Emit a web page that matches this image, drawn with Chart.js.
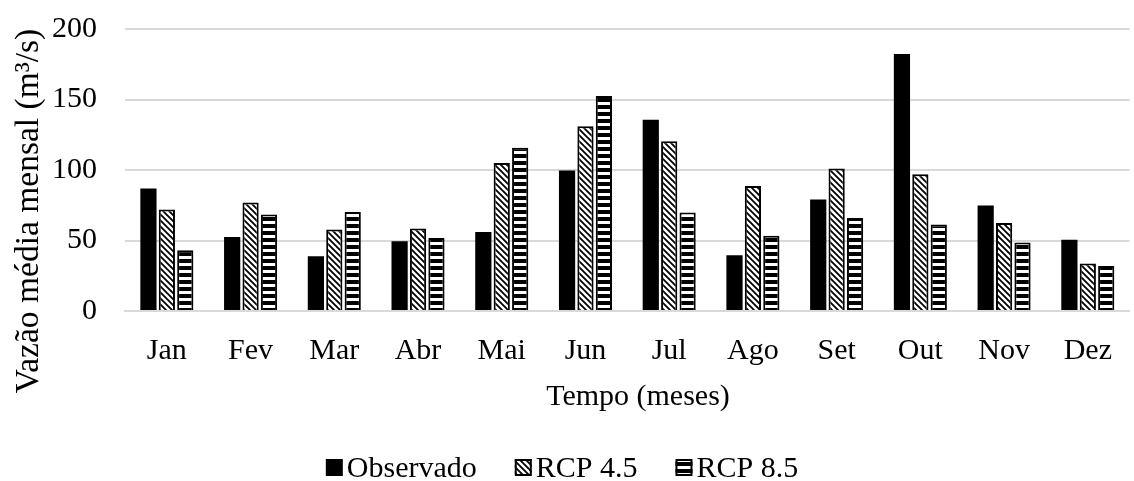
<!DOCTYPE html>
<html>
<head>
<meta charset="utf-8">
<script src="https://cdn.jsdelivr.net/npm/chart.js@4.4.0/dist/chart.umd.min.js"></script>
<style>
html,body{margin:0;padding:0;background:#fff}
#wrap{width:1134px;height:481px;position:relative}
</style>
</head>
<body>
<div id="wrap"><canvas id="graph1"></canvas></div>
<script>
const months    = ["Jan","Fev","Mar","Abr","Mai","Jun","Jul","Ago","Set","Out","Nov","Dez"];
const observado = [86.8, 52.5, 38.9, 49.5, 56, 99.7, 135.6, 39.6, 79, 182.3, 74.8, 50.5];
const rcp45     = [71.9, 77, 57.8, 58.5, 105, 131, 120.4, 88.6, 101, 97, 62.5, 33.7];
const rcp85     = [43.1, 68.4, 70.2, 51.8, 115.8, 152.5, 69.8, 53.3, 66, 61.3, 48.6, 32];
const yTicks    = [0, 50, 100, 150, 200];

const yTitle = "Vazão média mensal (m³/s)";
const xTitle = "Tempo (meses)";

// hachuras
function diagPattern(){
    const c = document.createElement("canvas");
    c.width = 6; c.height = 6;
    const g = c.getContext("2d");
    g.fillStyle = "#fff"; g.fillRect(0,0,6,6);
    g.strokeStyle = "#000"; g.lineWidth = 1.8;
    g.beginPath();
    g.moveTo(-1,-1); g.lineTo(7,7);
    g.moveTo(-4,2); g.lineTo(4,10);
    g.moveTo(2,-4); g.lineTo(10,4);
    g.stroke();
    return g.createPattern(c, "repeat");
}
function horizPattern(){
    const c = document.createElement("canvas");
    c.width = 4; c.height = 7;
    const g = c.getContext("2d");
    g.fillStyle = "#fff"; g.fillRect(0,0,4,7);
    g.fillStyle = "#000"; g.fillRect(0,0,4,4);
    return g.createPattern(c, "repeat");
}

const font = "'Liberation Serif', 'Times New Roman', serif";

// titulos e legenda desenhados a mao
const extras = {
    id: "extras",
    afterDraw(chart){
        const c = chart.ctx;
        c.save();
        c.fillStyle = "#000";

        // titulo do eixo y
        c.font = "33.5px " + font;
        c.save();
        c.translate(38, 211);
        c.rotate(-Math.PI/2);
        c.textAlign = "center";
        c.textBaseline = "alphabetic";
        c.fillText(yTitle, 0, 0);
        c.restore();

        // titulo do eixo x
        c.font = "30px " + font;
        c.textAlign = "center";
        c.textBaseline = "alphabetic";
        c.fillText(xTitle, 638, 405);

        // legenda
        const box = 17, gapTxt = 4, gapItem = 38;
        const items = chart.data.datasets.map(ds => ({ ds: ds, w: c.measureText(ds.label).width }));
        let total = 0;
        items.forEach((it, i) => { total += box + gapTxt + it.w + (i ? gapItem : 0); });
        let x = 562 - total/2;
        c.textAlign = "left";
        items.forEach(it => {
            c.fillStyle = it.ds.backgroundColor;
            c.fillRect(x, 459, box, box);
            if (it.ds.borderWidth){
                c.strokeStyle = "#000"; c.lineWidth = 2;
                c.strokeRect(x + 1, 460, box - 2, box - 2);
            }
            c.fillStyle = "#000";
            c.fillText(it.ds.label, x + box + gapTxt, 477);
            x += box + gapTxt + it.w + gapItem;
        });
        c.restore();
    }
};

window.addEventListener("load", function(){
    const ctx = document.getElementById("graph1").getContext("2d");
    new Chart(ctx, {
        type: "bar",
        data: {
            labels: months,
            datasets: [
                { label: "Observado", data: observado, backgroundColor: "#000", borderColor: "#000", borderWidth: 0 },
                { label: "RCP 4.5", data: rcp45, backgroundColor: diagPattern(), borderColor: "#000", borderWidth: 2 },
                { label: "RCP 8.5", data: rcp85, backgroundColor: horizPattern(), borderColor: "#000", borderWidth: 2 }
            ]
        },
        plugins: [extras],
        options: {
            responsive: true,
            maintainAspectRatio: false,
            animation: false,
            datasets: { bar: { categoryPercentage: 0.66, barPercentage: 0.88 } },
            layout: { padding: { left: 0, right: 1, top: 29, bottom: 0 } },
            plugins: {
                tooltip: { enabled: false },
                legend: { display: false }
            },
            scales: {
                x: {
                    afterFit: function(scale){ scale.height = 170; },
                    grid: { display: false, drawTicks: false },
                    border: { color: "#d9d9d9", width: 2 },
                    ticks: { color: "#000", font: { family: font, size: 30 }, padding: 22, maxRotation: 0 }
                },
                y: {
                    min: 0, max: 200,
                    afterBuildTicks: function(scale){ scale.ticks = yTicks.map(v => ({ value: v })); },
                    afterFit: function(scale){ scale.width = 125; scale.paddingTop = 0; scale.paddingBottom = 0; },
                    grid: { color: "#d9d9d9", lineWidth: 2, drawTicks: false },
                    border: { display: false },
                    ticks: { color: "#000", font: { family: font, size: 30 }, padding: 28 }
                }
            }
        }
    });
});
</script>
</body>
</html>
